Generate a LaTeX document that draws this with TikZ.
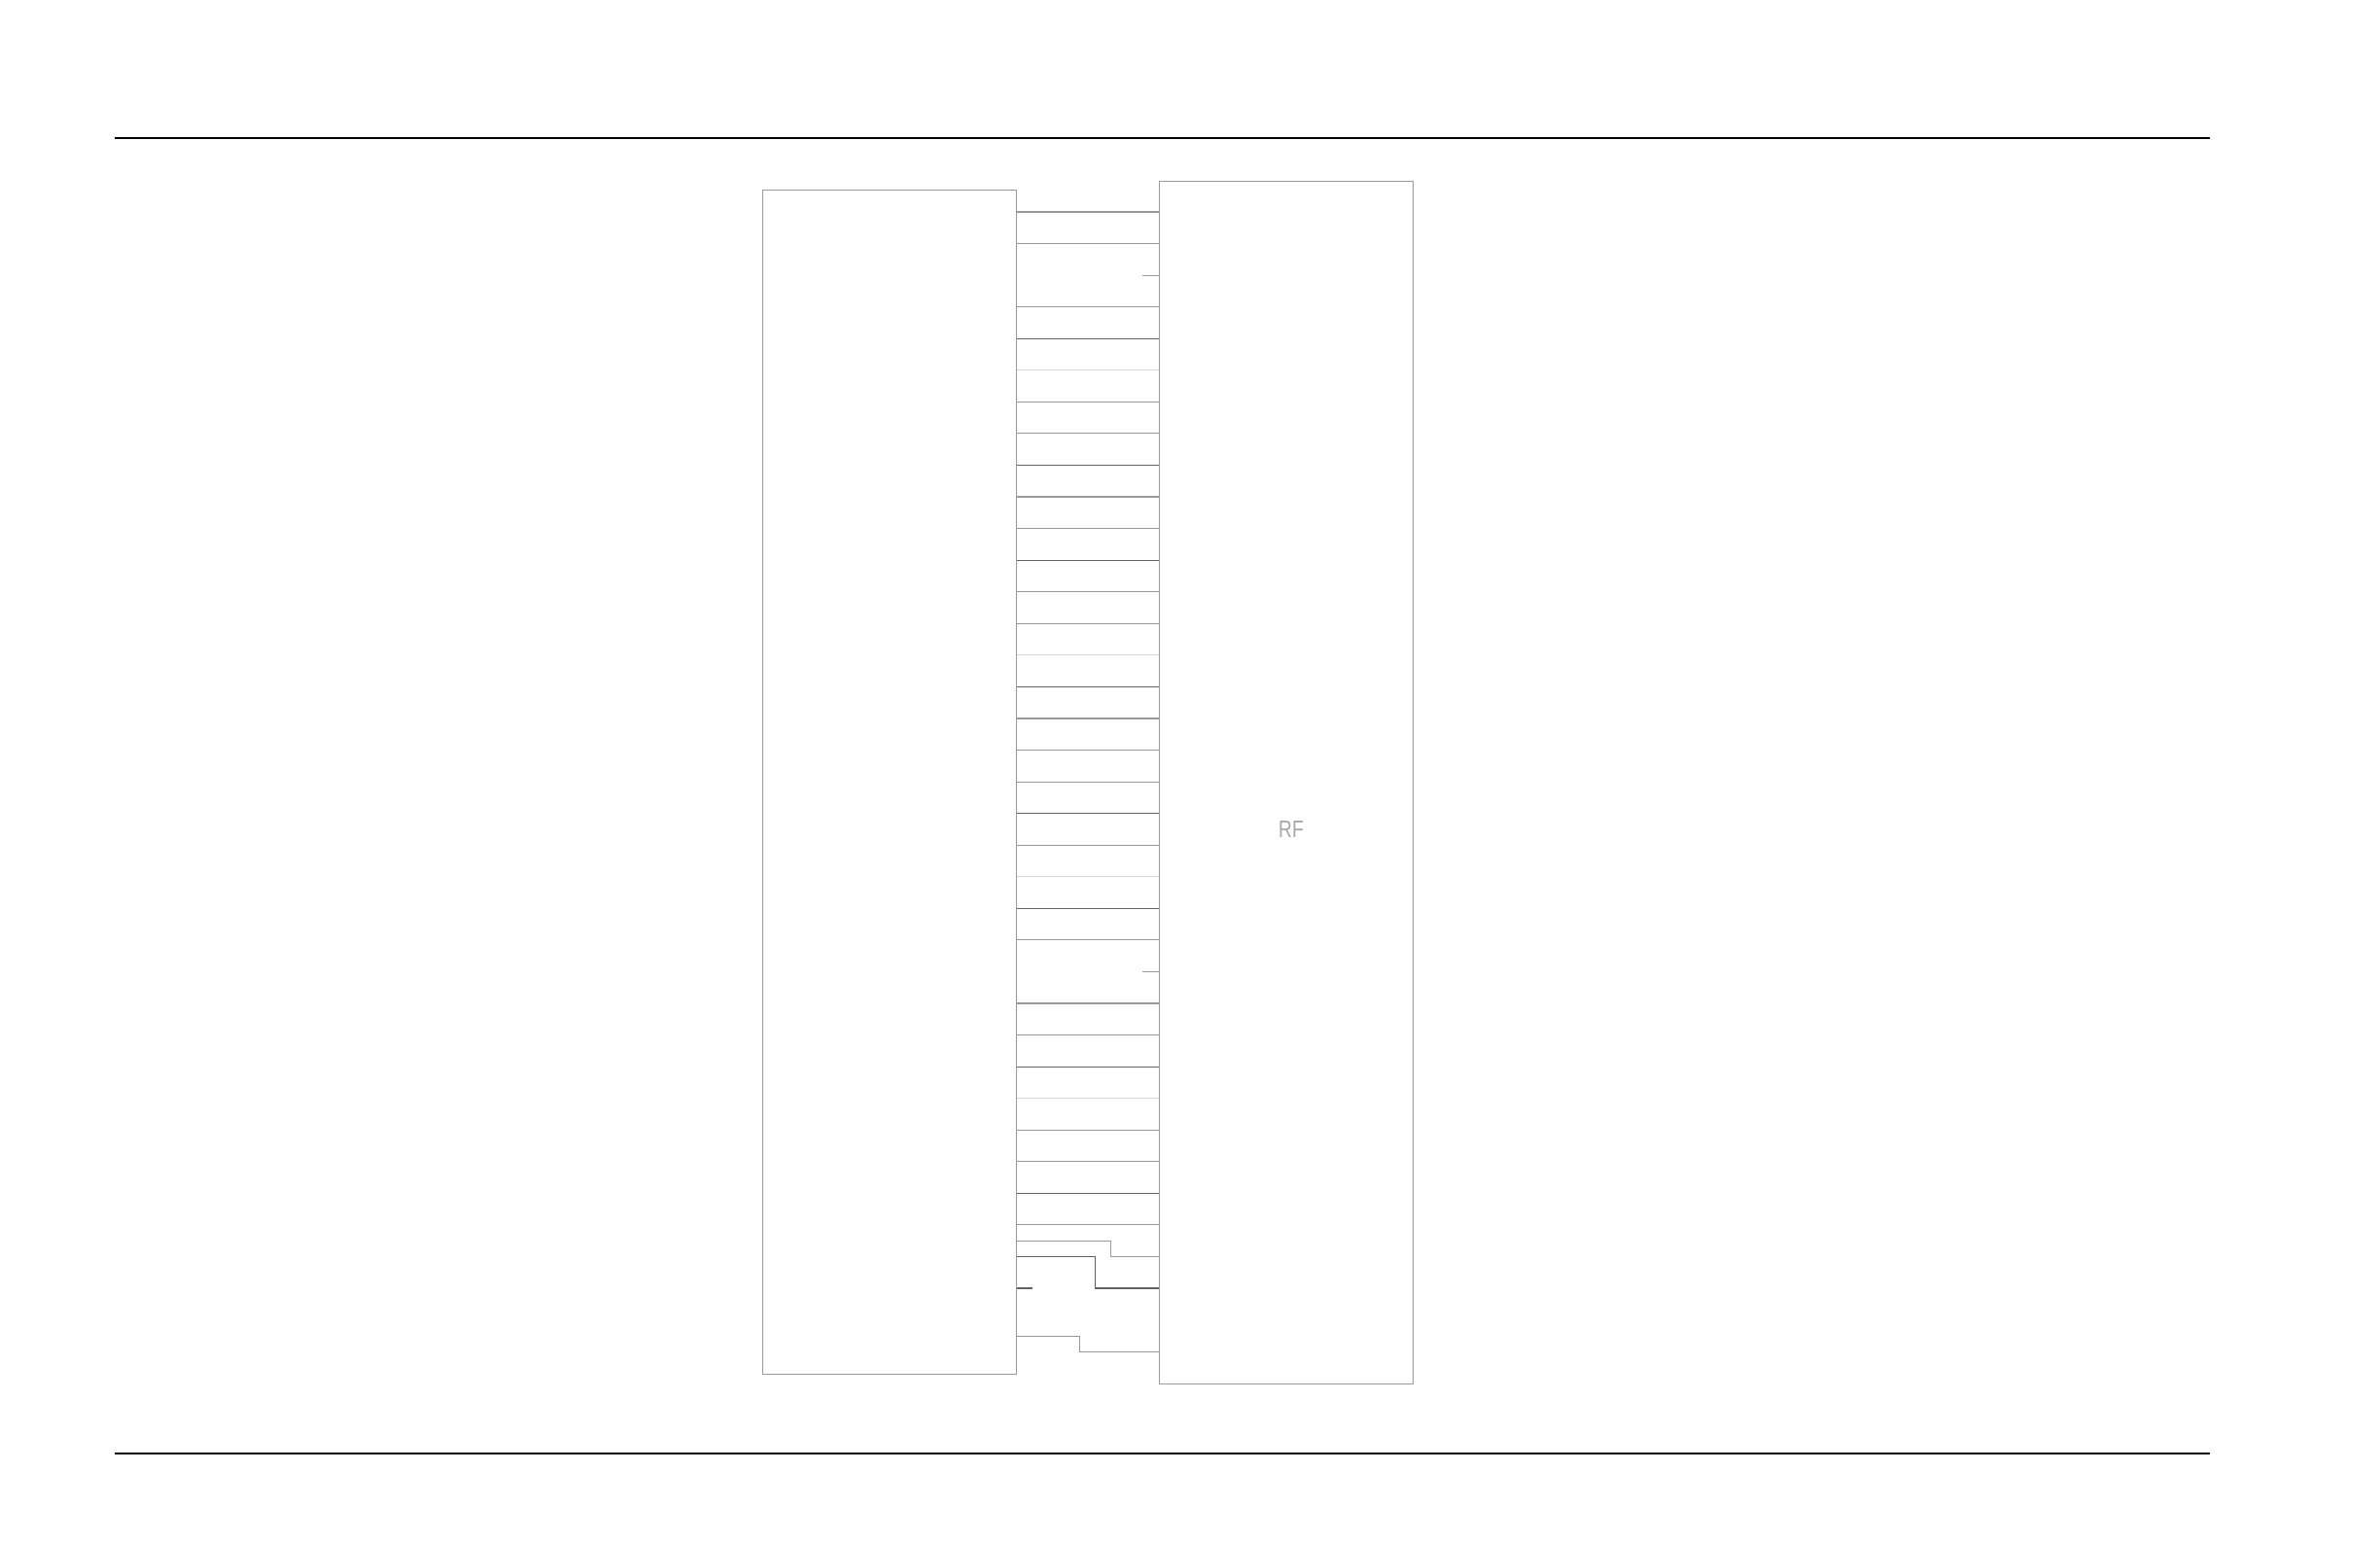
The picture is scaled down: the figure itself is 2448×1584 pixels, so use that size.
\documentclass[tikz,border=0pt]{standalone}
\usepackage{tikz}
\usepackage{fontspec}
\setmainfont{Liberation Sans}
\usepackage{xcolor}

\colorlet{boxgray}{black!40}
\colorlet{pinmid}{black!40}
\colorlet{pindark}{black!62}
\colorlet{pinlight}{black!16}

\tikzset{
  chip/.style={draw=boxgray,line width=0.3pt,anchor=north west,inner sep=0pt},
  pin/.style={pinmid,line width=0.3pt},
  pindk/.style={pindark,line width=0.3pt},
  pinlt/.style={pinlight,line width=0.3pt},
  rule/.style={black,line width=0.75pt}
}

\begin{document}
\begin{tikzpicture}[x=0.01cm,y=-0.01cm]
  \useasboundingbox (0,0) rectangle (2448,1584);

  % page rules -----------------------------------------------------------------
  \draw[rule] (118,142) -- (2273,142);
  \draw[rule] (118,1495) -- (2273,1495);

  %----------------------------------------------------------------------------%
  %  the two blocks  ----------------------------------------------------------%
  \node[chip,minimum width=2.614cm,minimum height=12.173cm] (mcu) at (783.6,194.6) {};
  \node[chip,minimum width=2.610cm,minimum height=12.360cm] (rf)  at (1191.7,186) {};
  \node[black!35,xscale=0.78,font=\fontsize{7}{8}\selectfont] (rflabel) at (1328,853) {RF};

  %----------------------------------------------------------------------------%
  %  straight pins  -----------------------------------------------------------%
  %  pitch 32.56, first pin at 218
  \draw[pin]   (mcu.east |- 0,218.0)  -- (rf.west |- 0,218.0);
  \draw[pin]   (mcu.east |- 0,250.6)  -- (rf.west |- 0,250.6);
  \draw[pin]   (rf.west |- 0,283.1)   -- ++(-16.7,0);
  \draw[pin]   (mcu.east |- 0,315.7)  -- (rf.west |- 0,315.7);
  \draw[pindk] (mcu.east |- 0,348.2)  -- (rf.west |- 0,348.2);
  \draw[pinlt] (mcu.east |- 0,380.8)  -- (rf.west |- 0,380.8);
  \draw[pin]   (mcu.east |- 0,413.4)  -- (rf.west |- 0,413.4);
  \draw[pin]   (mcu.east |- 0,445.9)  -- (rf.west |- 0,445.9);
  \draw[pindk] (mcu.east |- 0,478.5)  -- (rf.west |- 0,478.5);
  \draw[pin]   (mcu.east |- 0,511.0)  -- (rf.west |- 0,511.0);
  \draw[pin]   (mcu.east |- 0,543.6)  -- (rf.west |- 0,543.6);
  \draw[pindk] (mcu.east |- 0,576.2)  -- (rf.west |- 0,576.2);
  \draw[pin]   (mcu.east |- 0,608.7)  -- (rf.west |- 0,608.7);
  \draw[pin]   (mcu.east |- 0,641.3)  -- (rf.west |- 0,641.3);
  \draw[pinlt] (mcu.east |- 0,673.8)  -- (rf.west |- 0,673.8);
  \draw[pindk] (mcu.east |- 0,706.4)  -- (rf.west |- 0,706.4);
  \draw[pin]   (mcu.east |- 0,739.0)  -- (rf.west |- 0,739.0);
  \draw[pin]   (mcu.east |- 0,771.5)  -- (rf.west |- 0,771.5);
  \draw[pin]   (mcu.east |- 0,804.1)  -- (rf.west |- 0,804.1);
  \draw[pindk] (mcu.east |- 0,836.6)  -- (rf.west |- 0,836.6);
  \draw[pin]   (mcu.east |- 0,869.2)  -- (rf.west |- 0,869.2);
  \draw[pinlt] (mcu.east |- 0,901.8)  -- (rf.west |- 0,901.8);
  \draw[pindk] (mcu.east |- 0,934.3)  -- (rf.west |- 0,934.3);
  \draw[pin]   (mcu.east |- 0,966.9)  -- (rf.west |- 0,966.9);
  \draw[pin]   (rf.west |- 0,999.4)   -- ++(-16.7,0);
  \draw[pin]   (mcu.east |- 0,1032.0) -- (rf.west |- 0,1032.0);
  \draw[pin]   (mcu.east |- 0,1064.6) -- (rf.west |- 0,1064.6);
  \draw[pindk] (mcu.east |- 0,1097.1) -- (rf.west |- 0,1097.1);
  \draw[pinlt] (mcu.east |- 0,1129.7) -- (rf.west |- 0,1129.7);
  \draw[pin]   (mcu.east |- 0,1162.2) -- (rf.west |- 0,1162.2);
  \draw[pin]   (mcu.east |- 0,1194.8) -- (rf.west |- 0,1194.8);
  \draw[pindk] (mcu.east |- 0,1227.4) -- (rf.west |- 0,1227.4);
  \draw[pin]   (mcu.east |- 0,1259.9) -- (rf.west |- 0,1259.9);

  %----------------------------------------------------------------------------%
  %  stepped pins at the bottom  ----------------------------------------------%
  \draw[pin]   (mcu.east |- 0,1276.3) -| (1142.7,1292.5) -- (rf.west |- 0,1292.5);
  \draw[pindk] (mcu.east |- 0,1292.5) -| (1126.7,1325.0) -- (rf.west |- 0,1325.0);
  \draw[pindk] (mcu.east |- 0,1325.0) -- ++(16,0);
  \draw[pin]   (mcu.east |- 0,1374.3) -| (1110.7,1390.2) -- (rf.west |- 0,1390.2);
\end{tikzpicture}
\end{document}
